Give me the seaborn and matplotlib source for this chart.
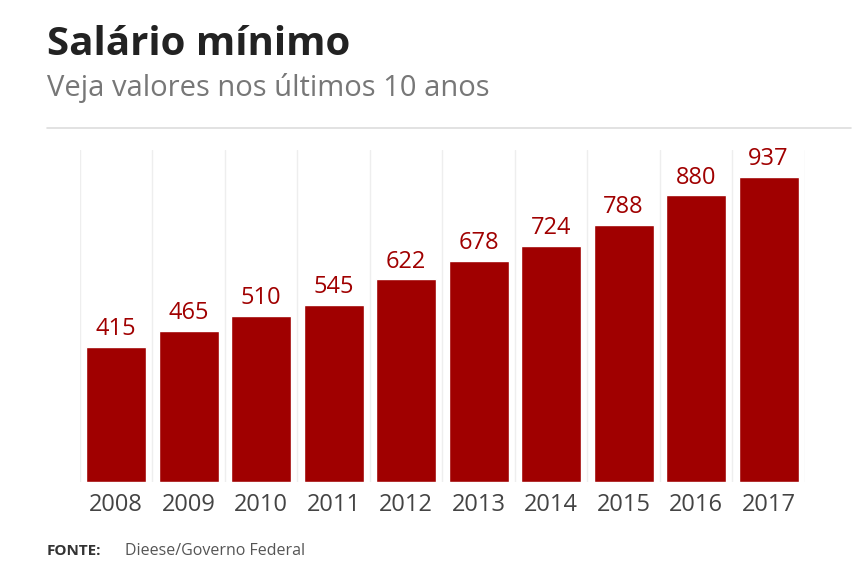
import seaborn as sns
import matplotlib.pyplot as plt
import pandas as pd

anos = ['2008', '2009', '2010', '2011', '2012', '2013', '2014', '2015', '2016', '2017']
valores = [415, 465, 510, 545, 622, 678, 724, 788, 880, 937]

df = pd.DataFrame({'ano': anos, 'valor': valores})

sns.set_style('white')
plt.rcParams['font.family'] = ['Open Sans', 'DejaVu Sans']

fig = plt.figure(figsize=(8.64, 5.76), dpi=100)
ax = fig.add_axes([0.0926, 0.163, 0.839, 0.577])

sns.barplot(data=df, x='ano', y='valor', color='#a00000', width=0.83, saturation=1, ax=ax)
ax.set_ylim(0, 1020)
ax.set_xlim(-0.5, len(anos) - 0.5)

# linhas verticais claras entre colunas
for i in range(len(anos) + 1):
    ax.axvline(i - 0.5, color='#eeeeee', lw=1, zorder=0)

for i, v in enumerate(valores):
    ax.text(i, v + 18, str(v), ha='center', va='bottom', fontsize=17, color='#a00000')

ax.set_xlabel('')
ax.set_ylabel('')
ax.set_yticks([])
ax.tick_params(axis='x', length=0, labelsize=17, labelcolor='#444444', pad=8)
for s in ax.spines.values():
    s.set_visible(False)

fig.text(0.054, 0.922, 'Salário mínimo', fontsize=29, fontweight='bold', color='#222222', va='center')
fig.text(0.054, 0.848, 'Veja valores nos últimos 10 anos', fontsize=21, color='#777777', va='center')
fig.add_artist(plt.Line2D([0.054, 0.985], [0.778, 0.778], color='#dddddd', lw=1.2))
fig.text(0.054, 0.043, 'FONTE:', fontsize=11, fontweight='bold', color='#333333', va='center')
fig.text(0.145, 0.043, 'Dieese/Governo Federal', fontsize=11.5, color='#555555', va='center')

fig.savefig('out.png', dpi=100, facecolor='white')
